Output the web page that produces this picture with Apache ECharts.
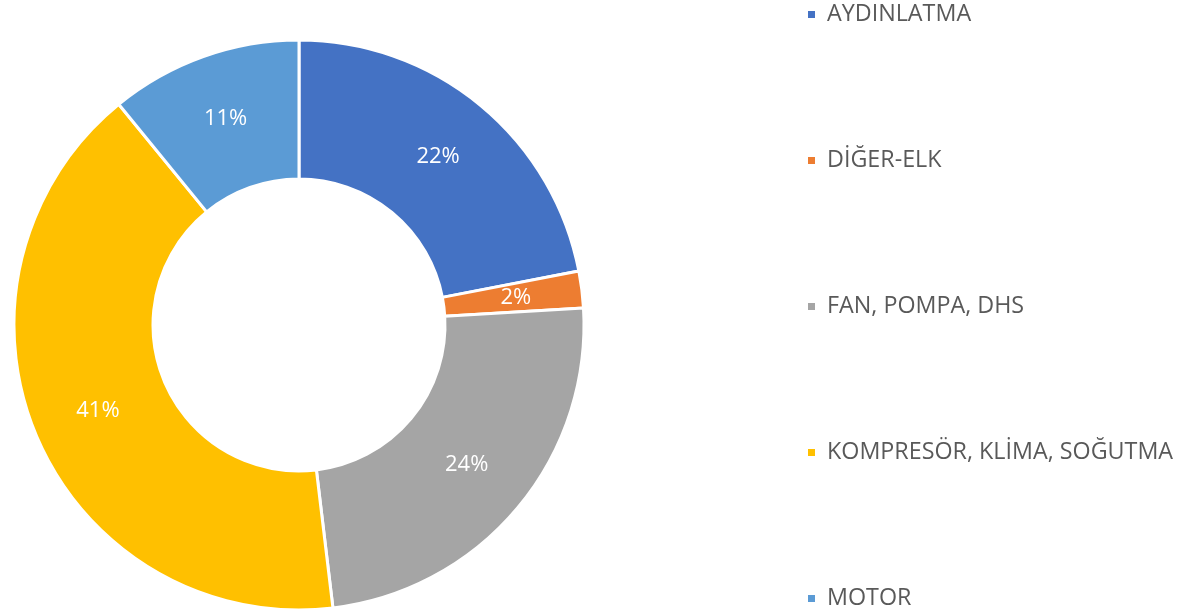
<!DOCTYPE html>
<html>
<head>
<meta charset="utf-8">
<script src="https://cdn.jsdelivr.net/npm/echarts@6/dist/echarts.min.js"></script>
<style>
  html, body { margin: 0; padding: 0; background: #fff; }
  #chart { width: 1178px; height: 612px; }
</style>
</head>
<body>
<div id="chart"></div>
<script>
var categories = ['AYDINLATMA', 'DİĞER-ELK', 'FAN, POMPA, DHS', 'KOMPRESÖR, KLİMA, SOĞUTMA', 'MOTOR'];
var values = [21.97, 2.08, 24.05, 41.0, 10.9];
var colors = ['#4472C4', '#ED7D31', '#A5A5A5', '#FFC000', '#5B9BD5'];

var total = values.reduce(function (a, b) { return a + b; }, 0);

var dom = document.getElementById('chart');
var myChart = echarts.init(dom);

var option = {
    animation: false,
    color: colors,
    legend: {
        orient: 'vertical',
        left: 806,
        top: 3,
        height: 609,
        padding: 0,
        itemWidth: 9,
        itemHeight: 9,
        itemGap: 123,
        icon: 'rect',
        textStyle: {
            color: '#595959',
            fontSize: 23.3,
            fontFamily: 'Open Sans',
            lineHeight: 22,
            padding: [0, 0, 0, 6]
        },
        data: categories
    },
    series: [
        {
            type: 'pie',
            center: [299, 325],
            radius: [146, 285],
            startAngle: 90,
            clockwise: true,
            avoidLabelOverlap: false,
            itemStyle: {
                borderColor: '#fff',
                borderWidth: 3
            },
            label: {
                show: true,
                position: 'inside',
                color: '#fff',
                fontSize: 22,
                fontFamily: 'Open Sans',
                formatter: function (p) {
                    return Math.round(p.value / total * 100) + '%';
                }
            },
            labelLine: { show: false },
            emphasis: { disabled: true },
            data: categories.map(function (c, i) {
                return { name: c, value: values[i] };
            })
        }
    ]
};

myChart.setOption(option);
</script>
</body>
</html>
